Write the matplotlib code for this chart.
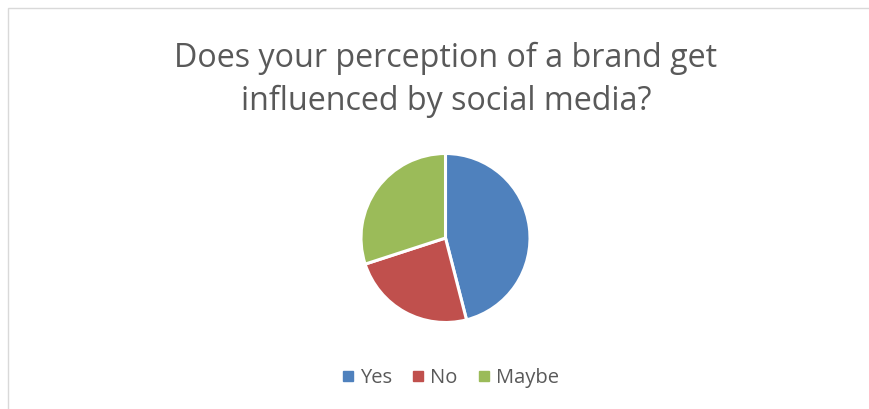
import matplotlib
matplotlib.use("Agg")
import matplotlib.pyplot as plt
from matplotlib.patches import Rectangle
from matplotlib.lines import Line2D

categories = ["Yes", "No", "Maybe"]
values = [46, 24, 30]
colors = ["#4F81BD", "#C0504D", "#9BBB59"]
title = "Does your perception of a brand get\ninfluenced by social media?"

W, H = 870, 409
fig = plt.figure(figsize=(W / 100, H / 100), dpi=100)
fig.patch.set_facecolor("white")

# chart border
fig.patches.append(Rectangle((8 / W, -0.1), 1.2, (H - 8) / H + 0.1, transform=fig.transFigure,
                             fill=False, edgecolor="#D9D9D9", linewidth=1.0))

cx, cy, r = 445.5, 238, 84.5
ax = fig.add_axes([(cx - r) / W, (H - cy - r) / H, 2 * r / W, 2 * r / H])
wedges, _ = ax.pie(values, colors=colors, startangle=90, counterclock=False,
                   wedgeprops=dict(edgecolor="white", linewidth=2.2))
for w in wedges:
    w.set_clip_on(False)
ax.set_xlim(-1, 1)
ax.set_ylim(-1, 1)
ax.set_aspect("equal")
ax.axis("off")

fig.text(446 / W, 1 - 80 / H, title, ha="center", va="center", fontsize=23.2,
         color="#595959", family="Open Sans", linespacing=1.4)

handles = [Line2D([0], [0], marker="s", linestyle="", markersize=6.5,
                  markerfacecolor=c, markeredgecolor=c) for c in colors]
fig.legend(handles, categories, loc="center", bbox_to_anchor=(449 / W, 1 - 378 / H),
           ncol=3, frameon=False, labelcolor="#595959",
           prop={"family": "Open Sans", "size": 14.5},
           handletextpad=0.15, columnspacing=0.85, handlelength=0.9)

fig.savefig("out.png", dpi=100)
